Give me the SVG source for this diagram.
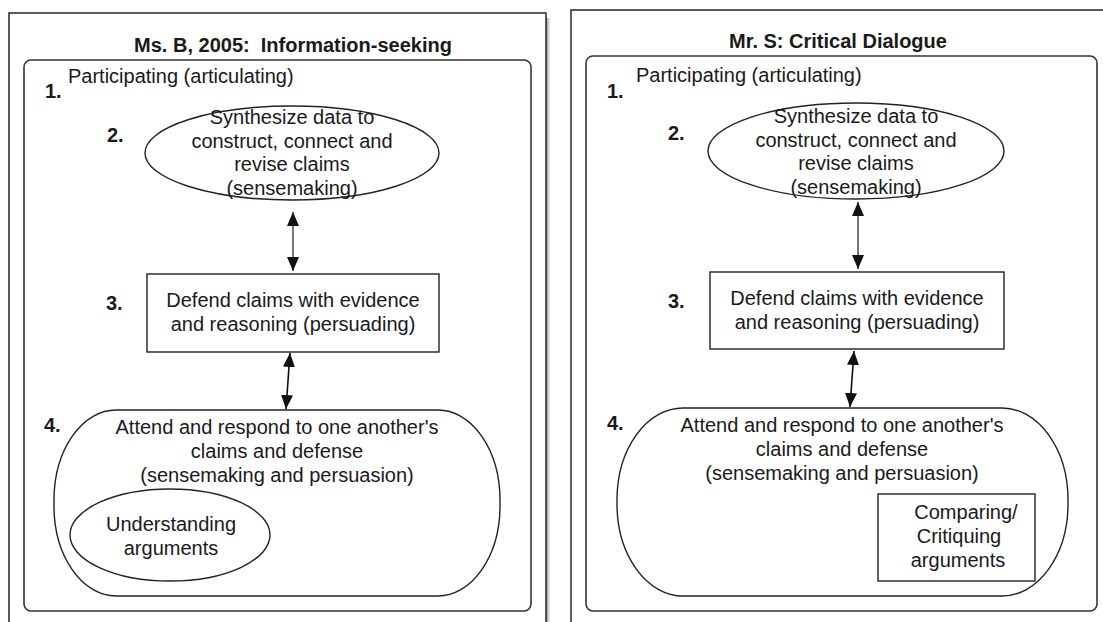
<svg xmlns="http://www.w3.org/2000/svg" width="1103" height="622" viewBox="0 0 1103 622">
<defs>
<style>
text{font-family:"Liberation Sans",Arial,sans-serif;font-size:20px;fill:#1a1a1a;white-space:pre}
.b{font-weight:bold}
.c{text-anchor:middle}
.frame{fill:#fff;stroke:#333;stroke-width:1.6}
.inner{fill:none;stroke:#333;stroke-width:1.6}
.node{fill:#fff;stroke:#222;stroke-width:1.4}
.con{stroke:#111;stroke-width:1.6;fill:none}
.gray{stroke:#777;stroke-width:2}
</style>
<marker id="ah" viewBox="0 0 14 12" refX="14" refY="6" markerWidth="14" markerHeight="12" markerUnits="userSpaceOnUse" orient="auto-start-reverse">
<path d="M0,0 L14,6 L0,12 Z" fill="#111"/>
</marker>
<linearGradient id="sh" x1="0" x2="1" y1="0" y2="0">
<stop offset="0" stop-color="#777"/>
<stop offset="1" stop-color="#fff" stop-opacity="0"/>
</linearGradient>
</defs>
<rect width="1103" height="622" fill="#fff"/>

<g id="panel-left">
<rect x="546" y="18" width="6" height="604" fill="url(#sh)"/>
<rect class="frame" x="9" y="13" width="537" height="620"/>
<text class="b c" x="293" y="52" xml:space="preserve">Ms. B, 2005:  Information-seeking</text>
<rect class="inner" x="24" y="60" width="507" height="551" rx="7"/>
<text class="b" x="45" y="98">1.</text>
<text x="68" y="83">Participating (articulating)</text>
</g>

<g id="panel-right">
<rect class="frame" x="571" y="10" width="560" height="620"/>
<text class="b c" x="838" y="48">Mr. S: Critical Dialogue</text>
<rect class="inner" x="586" y="56" width="511" height="555" rx="7"/>
<text class="b" x="607" y="98">1.</text>
<text x="636" y="82">Participating (articulating)</text>
</g>

<g id="L-node2">
<ellipse class="node" cx="292" cy="153" rx="147" ry="47"/>
<text class="b" x="107" y="142">2.</text>
<text class="c" x="292" y="124">Synthesize data to</text>
<text class="c" x="292" y="148">construct, connect and</text>
<text class="c" x="292" y="171">revise claims</text>
<text class="c" x="292" y="195">(sensemaking)</text>
</g>

<g id="L-node3">
<rect class="node" x="147" y="274" width="292" height="78"/>
<text class="b" x="106" y="310">3.</text>
<text class="c" x="293" y="307">Defend claims with evidence</text>
<text class="c" x="293" y="331">and reasoning (persuading)</text>
</g>

<g id="L-node4">
<rect class="node" x="54" y="410" width="446" height="186" rx="62" ry="90"/>
<text class="b" x="44" y="432">4.</text>
<text class="c" x="277" y="434">Attend and respond to one another's</text>
<text class="c" x="277" y="458">claims and defense</text>
<text class="c" x="277" y="482">(sensemaking and persuasion)</text>
</g>

<g id="L-node4a">
<ellipse class="node" cx="170" cy="535" rx="100" ry="46"/>
<text class="c" x="171" y="531">Understanding</text>
<text class="c" x="171" y="555">arguments</text>
</g>

<g id="R-node2">
<ellipse class="node" cx="856" cy="151" rx="148" ry="48"/>
<text class="b" x="668" y="140">2.</text>
<text class="c" x="856" y="123">Synthesize data to</text>
<text class="c" x="856" y="147">construct, connect and</text>
<text class="c" x="856" y="170">revise claims</text>
<text class="c" x="856" y="194">(sensemaking)</text>
</g>

<g id="R-node3">
<rect class="node" x="710" y="272" width="294" height="77"/>
<text class="b" x="668" y="308">3.</text>
<text class="c" x="857" y="305">Defend claims with evidence</text>
<text class="c" x="857" y="329">and reasoning (persuading)</text>
</g>

<g id="R-node4">
<rect class="node" x="617" y="408" width="451" height="188" rx="66" ry="92"/>
<text class="b" x="607" y="430">4.</text>
<text class="c" x="842" y="432">Attend and respond to one another's</text>
<text class="c" x="842" y="456">claims and defense</text>
<text class="c" x="842" y="480">(sensemaking and persuasion)</text>
</g>

<g id="R-node4a">
<rect class="node" x="878" y="494" width="157" height="87"/>
<text class="c" x="966" y="519">Comparing/</text>
<text class="c" x="959" y="543">Critiquing</text>
<text class="c" x="958" y="567">arguments</text>
</g>

<g id="connectors">
<line class="con gray" x1="293" y1="212" x2="293" y2="271" marker-start="url(#ah)" marker-end="url(#ah)"/>
<line class="con" x1="290" y1="353" x2="286" y2="409" marker-start="url(#ah)" marker-end="url(#ah)"/>
<line class="con gray" x1="858" y1="202" x2="858" y2="269" marker-start="url(#ah)" marker-end="url(#ah)"/>
<line class="con" x1="854" y1="351" x2="850" y2="407" marker-start="url(#ah)" marker-end="url(#ah)"/>
</g>
</svg>
